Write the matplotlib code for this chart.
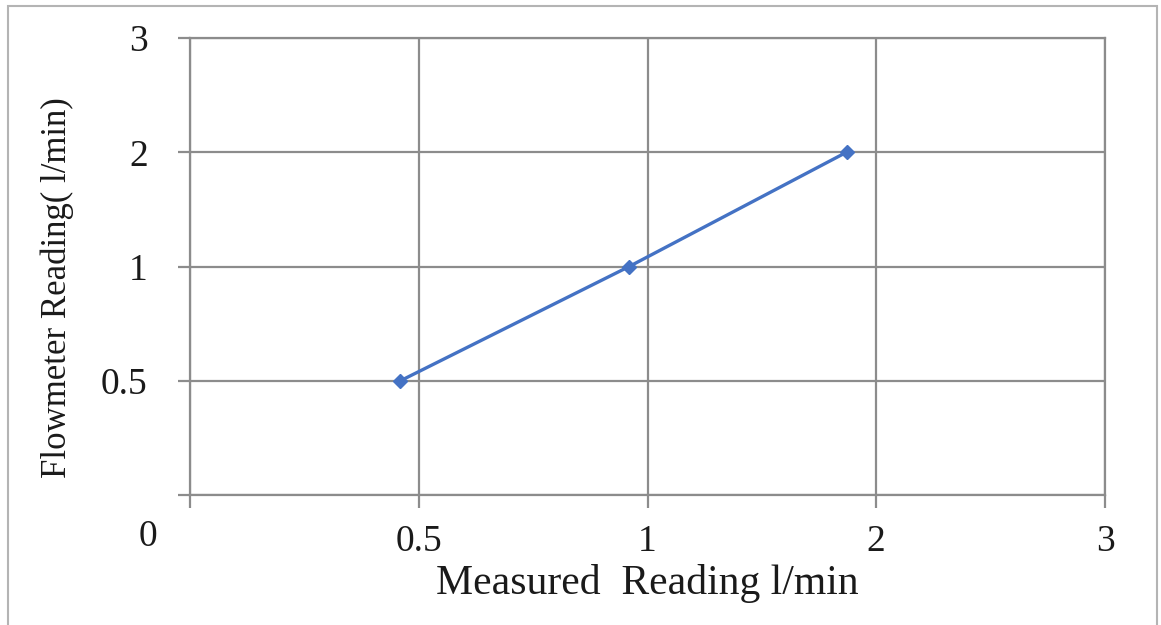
import numpy as np
import matplotlib
matplotlib.use("Agg")
import matplotlib.pyplot as plt
from matplotlib.patches import Rectangle
from matplotlib.transforms import Affine2D

# Calibration data
measured = [0.46, 0.96, 1.87]        # l/min, measured reading
flowmeter = [0.5, 1.0, 2.0]          # l/min, flowmeter reading

x_ticks = [0, 0.5, 1, 2, 3]
x_tick_labels = ["", "0.5", "1", "2", "3"]
y_ticks = [0, 0.5, 1, 2, 3]
y_tick_labels = ["", "0.5", "1", "2", "3"]

# Axis scale: evenly spaced tick values (category-like spacing)
scale_vals = np.array([0, 0.5, 1, 2, 3], dtype=float)
scale_pos = np.arange(len(scale_vals), dtype=float)


def fwd(v):
    return np.interp(v, scale_vals, scale_pos)


def inv(p):
    return np.interp(p, scale_pos, scale_vals)


plt.rcParams["font.family"] = ["Liberation Serif", "DejaVu Serif"]

W, H = 1161, 625
fig = plt.figure(figsize=(W / 100, H / 100), dpi=100)
fig.patch.set_facecolor("white")

# Outer chart-area frame
frame = Rectangle((8 / W, -0.05), (1157 - 8) / W, (H - 6) / H + 0.05,
                  transform=fig.transFigure, fill=False,
                  edgecolor="#b4b4b4", linewidth=1.5, clip_on=False)
fig.patches.append(frame)

ax = fig.add_axes([190 / W, 1 - 495 / H, (1105 - 190) / W, (495 - 38) / H])
ax.set_xscale("function", functions=(fwd, inv))
ax.set_yscale("function", functions=(fwd, inv))
ax.set_xlim(0, 3)
ax.set_ylim(0, 3)

grid_color = "#8c8c8c"
ax.set_xticks(x_ticks)
ax.set_xticklabels(x_tick_labels)
ax.set_yticks(y_ticks)
ax.set_yticklabels(y_tick_labels)
ax.minorticks_off()
ax.grid(True, color=grid_color, linewidth=1.6)
ax.set_axisbelow(True)
for s in ax.spines.values():
    s.set_color(grid_color)
    s.set_linewidth(1.6)

ax.tick_params(axis="both", direction="out", length=9, width=1.6,
               color=grid_color, labelsize=27, labelcolor="#1a1a1a")
ax.tick_params(axis="y", pad=21.5)
ax.tick_params(axis="x", pad=12)

ax.plot(measured, flowmeter, color="#4472C4", linewidth=2.4,
        marker="D", markersize=7, markerfacecolor="#4472C4",
        markeredgecolor="#4472C4", zorder=3)

# Origin label placed below-left of the corner (pixel position)
ax.text(148, 537, "0", fontsize=27, color="#1a1a1a",
        ha="center", va="center",
        transform=Affine2D().scale(1, -1).translate(0, H))

ax.set_xlabel("Measured  Reading l/min", fontsize=30, color="#1a1a1a",
              labelpad=4)
ylab = ax.set_ylabel("Flowmeter Reading( l/min)", fontsize=25,
                     color="#1a1a1a")
ylab.set_va("center")
ylab.set_ha("center")
ax.yaxis.set_label_coords((57 - 190) / 915, (495 - 288) / 457)

fig.savefig("out.png", dpi=100)
